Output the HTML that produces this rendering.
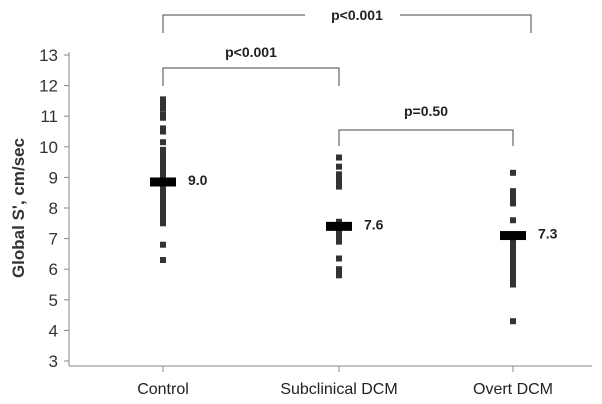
<!DOCTYPE html>
<html><head><meta charset="utf-8"><style>
body{margin:0;background:#fff;}
svg{display:block;font-family:"Liberation Sans",Arial,sans-serif;}
</style></head><body>
<svg id="c" width="602" height="404"></svg>
<script>
const categories=["Control","Subclinical DCM","Overt DCM"];
const controlValues=[11.55,11.4,11.25,11.05,10.95,10.6,10.5,10.15,9.9,9.8,9.7,9.6,9.5,9.4,9.3,9.2,9.1,9.0,8.9,8.8,8.7,8.6,8.5,8.4,8.3,8.2,8.1,8.0,7.9,7.8,7.7,7.6,7.5,6.8,6.3];
const subclinicalValues=[9.65,9.35,9.1,9.0,8.9,8.8,8.7,7.55,7.3,7.2,7.1,7.0,6.9,6.35,6.0,5.9,5.8];
const overtValues=[9.15,8.55,8.45,8.35,8.25,8.15,7.6,7.0,6.9,6.8,6.7,6.6,6.5,6.4,6.3,6.2,6.1,6.0,5.9,5.8,5.7,5.6,5.5,4.3];
const seriesValues=[controlValues,subclinicalValues,overtValues];
const means=[8.85,7.4,7.1];
const meanLabels=["9.0","7.6","7.3"];
const yTicks=[3,4,5,6,7,8,9,10,11,12,13];
const svg=document.getElementById('c');const NS='http://www.w3.org/2000/svg';
function mk(t,a,p){const e=document.createElementNS(NS,t);for(const k in a)e.setAttribute(k,a[k]);(p||svg).appendChild(e);return e;}
const y=v=>361-(v-3)*30.6;
const xs=[163,339,513];
const x=i=>xs[i];
let e=mk('line',{x1:69,y1:52,x2:69,y2:366,stroke:'#888','stroke-width':1});


e=mk('line',{x1:69,y1:366,x2:592,y2:366,stroke:'#888','stroke-width':1});


yTicks.forEach(v=>{
 mk('line',{x1:64,y1:y(v),x2:69,y2:y(v),stroke:'#888'});
 const t=mk('text',{x:58,y:y(v)+6,'text-anchor':'end','font-size':17,fill:'#333'});t.textContent=v;
 
 
});
const yt=mk('text',{transform:'translate(24,208) rotate(-90)','text-anchor':'middle','font-size':17,'font-weight':'bold',fill:'#333'});
yt.textContent="Global S', cm/sec";


categories.forEach((c,i)=>{
 mk('line',{x1:x(i),y1:366,x2:x(i),y2:372,stroke:'#888'});
 const t=mk('text',{x:x(i),y:394,'text-anchor':'middle','font-size':16,fill:'#222'});t.textContent=c;
 
 
 seriesValues[i].forEach(v=>{
  const r=mk('rect',{x:x(i)-3,y:y(v)-3,width:6,height:6,fill:'#333'});
  
  
 });
 const m=mk('rect',{x:x(i)-13,y:y(means[i])-4.5,width:26,height:9,fill:'#000'});
 
 
 const l=mk('text',{x:x(i)+25,y:y(means[i])+3,'font-size':14,'font-weight':'bold',fill:'#222'});l.textContent=meanLabels[i];
 
 
});
function bracket(x1,x2,yy,d1,d2,label,ty,gap){
 const g=mk('g',{stroke:'#444',fill:'none','stroke-width':1});
 
 
 if(gap){mk('path',{d:`M${x1},${d1}V${yy}H${gap[0]}M${gap[1]},${yy}H${x2}V${d2}`},g);}
 else mk('path',{d:`M${x1},${d1}V${yy}H${x2}V${d2}`},g);
 const t=mk('text',{x:(x1+x2)/2+(gap?10:0),y:ty,'text-anchor':'middle','font-size':14,'font-weight':'bold',fill:'#222'});t.textContent=label;
 
 
}
bracket(163,531,15,33,33,'p<0.001',20,[305,400]);
bracket(163,339,68,86,86,'p<0.001',57);
bracket(339,513,130,146,146,'p=0.50',116);
</script>
</body></html>
